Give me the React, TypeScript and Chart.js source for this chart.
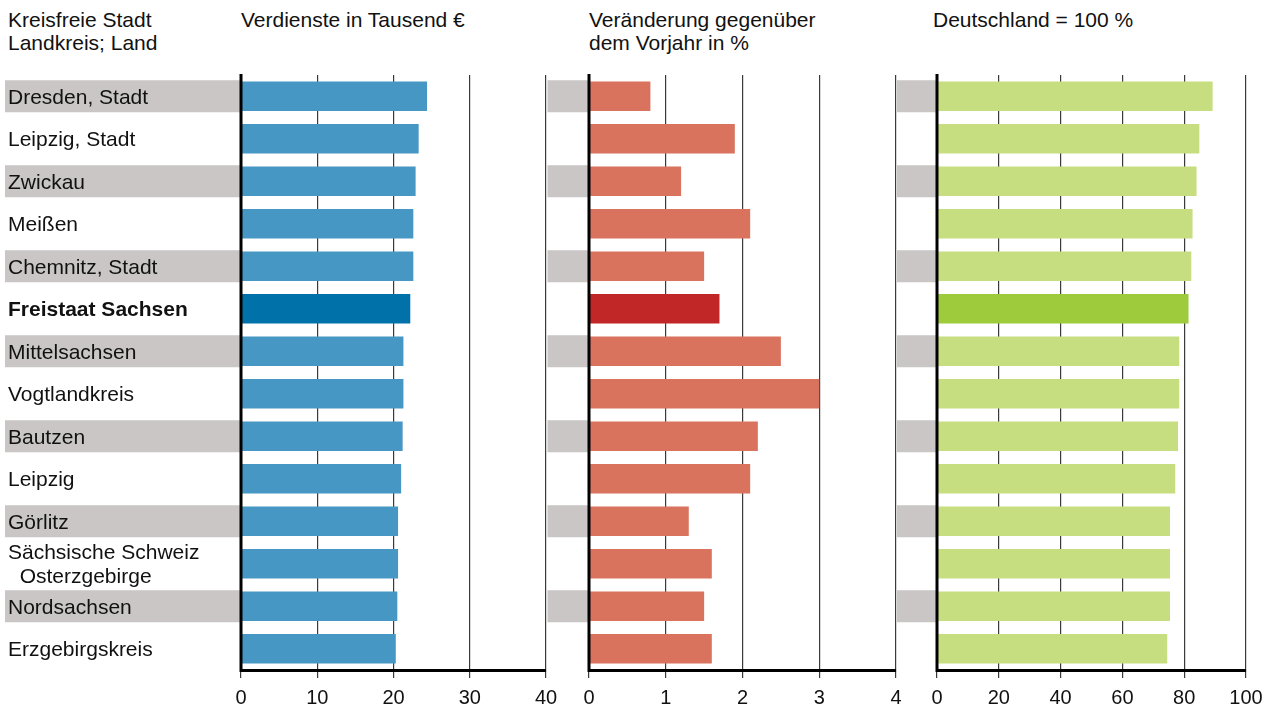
import React, { useEffect, useRef } from 'react';
import { Chart, registerables } from 'chart.js';

Chart.register(...registerables);

const FONT = "'Liberation Sans', Arial, Helvetica, sans-serif";

// ---- data ----
const categories: (string | string[])[] = [
  'Dresden, Stadt',
  'Leipzig, Stadt',
  'Zwickau',
  'Meißen',
  'Chemnitz, Stadt',
  'Freistaat Sachsen',
  'Mittelsachsen',
  'Vogtlandkreis',
  'Bautzen',
  'Leipzig',
  'Görlitz',
  ['Sächsische Schweiz', '  Osterzgebirge'],
  'Nordsachsen',
  'Erzgebirgskreis',
];
const highlightIndex = 5;

const earnings = [24.4, 23.3, 22.9, 22.6, 22.6, 22.2, 21.3, 21.3, 21.2, 21.0, 20.6, 20.6, 20.5, 20.3];
const changePct = [0.8, 1.9, 1.2, 2.1, 1.5, 1.7, 2.5, 3.0, 2.2, 2.1, 1.3, 1.6, 1.5, 1.6];
const germanyIndex = [89.2, 84.9, 84.0, 82.7, 82.3, 81.4, 78.4, 78.4, 78.0, 77.1, 75.4, 75.4, 75.4, 74.5];

const earningsRange = [0, 40, 10];
const changeRange = [0, 4, 1];
const indexRange = [0, 100, 20];

const headerLabels = ['Kreisfreie Stadt', 'Landkreis; Land'];
const headerEarnings = ['Verdienste in Tausend €'];
const headerChange = ['Veränderung gegenüber', 'dem Vorjahr in %'];
const headerIndex = ['Deutschland = 100 %'];

type PanelProps = {
  values: number[];
  range: number[];
  color: string;
  highlight: string;
  left: number;
  width: number;
  padLeft: number;
  padRight: number;
  showLabels: boolean;
  bandStart: number;
};

function Panel(p: PanelProps) {
  const ref = useRef<HTMLCanvasElement | null>(null);
  useEffect(() => {
    if (!ref.current) return;
    const bands = {
      id: 'bands',
      beforeDraw(chart: any) {
        const { ctx, chartArea, scales } = chart;
        const y = scales.y;
        ctx.save();
        ctx.fillStyle = '#c9c6c5';
        for (let i = 0; i < categories.length; i += 2) {
          const c = y.getPixelForValue(i);
          ctx.fillRect(p.bandStart, c - 16, chartArea.left - p.bandStart, 32);
        }
        ctx.restore();
      },
    };
    const zeroLine = {
      id: 'zeroLine',
      afterDatasetsDraw(chart: any) {
        const { ctx, chartArea, scales } = chart;
        const x0 = scales.x.getPixelForValue(0);
        ctx.save();
        ctx.strokeStyle = '#000';
        ctx.lineWidth = 3;
        ctx.beginPath();
        ctx.moveTo(x0, chartArea.top - 1);
        ctx.lineTo(x0, chartArea.bottom + 2);
        ctx.stroke();
        ctx.restore();
      },
    };
    const chart = new Chart(ref.current, {
      type: 'bar',
      data: {
        labels: categories as any,
        datasets: [
          {
            data: p.values,
            backgroundColor: p.values.map((_, i) => (i === highlightIndex ? p.highlight : p.color)),
            borderWidth: 0,
            barPercentage: 0.69,
            categoryPercentage: 1,
          },
        ],
      },
      options: {
        indexAxis: 'y',
        responsive: false,
        animation: false,
        layout: { padding: { left: p.padLeft, right: p.padRight, top: 75, bottom: 0 } },
        plugins: { legend: { display: false }, tooltip: { enabled: false } },
        scales: {
          x: {
            type: 'linear',
            position: 'bottom',
            min: p.range[0],
            max: p.range[1],
            ticks: {
              stepSize: p.range[2],
              color: '#111',
              font: { family: FONT, size: 20 },
              padding: 8,
              maxRotation: 0,
            },
            grid: {
              color: '#3a3a3a',
              lineWidth: 1.2,
              tickLength: 8,
              tickWidth: 1.2,
              tickColor: '#3a3a3a',
            },
            border: { display: true, color: '#000', width: 3 },
            afterFit: (s: any) => {
              s.height = 41;
              s.paddingLeft = 0;
              s.paddingRight = 0;
            },
          },
          y: {
            type: 'category',
            display: p.showLabels,
            grid: { display: false, drawTicks: false },
            border: { display: false },
            ticks: {
              crossAlign: 'far',
              autoSkip: false,
              padding: 0,
              labelOffset: 1.5,
              color: '#111',
              font: (c: any) => ({
                family: FONT,
                size: 21,
                weight: c.index === highlightIndex ? 'bold' : 'normal',
                lineHeight: 1.15,
              }),
            },
            afterFit: (s: any) => {
              s.width = p.showLabels ? 241 - p.padLeft : 0;
              s.paddingTop = 0;
              s.paddingBottom = 0;
            },
          },
        },
      } as any,
      plugins: [bands, zeroLine],
    });
    return () => chart.destroy();
  }, []);
  return (
    <canvas
      ref={ref}
      width={p.width}
      height={711}
      style={{ position: 'absolute', left: p.left, top: 0, width: p.width, height: 711 }}
    />
  );
}

function Header({ lines, left }: { lines: string[]; left: number }) {
  return (
    <div
      style={{
        position: 'absolute',
        left,
        top: 8,
        font: `21px ${FONT}`,
        lineHeight: '23px',
        color: '#111',
        whiteSpace: 'nowrap',
      }}
    >
      {lines.map((l, i) => (
        <div key={i}>{l}</div>
      ))}
    </div>
  );
}

export default function App() {
  return (
    <div
      style={{
        position: 'absolute',
        left: 0,
        top: 0,
        width: 1271,
        height: 711,
        background: '#fff',
        overflow: 'hidden',
      }}
    >
      <Header lines={headerLabels} left={8} />
      <Header lines={headerEarnings} left={241} />
      <Header lines={headerChange} left={589} />
      <Header lines={headerIndex} left={933} />
      <Panel
        values={earnings}
        range={earningsRange}
        color="#4697c4"
        highlight="#0071a9"
        left={0}
        width={560}
        padLeft={8}
        padRight={14}
        showLabels={true}
        bandStart={5}
      />
      <Panel
        values={changePct}
        range={changeRange}
        color="#d9735e"
        highlight="#c22727"
        left={546}
        width={364}
        padLeft={43}
        padRight={14}
        showLabels={false}
        bandStart={1.5}
      />
      <Panel
        values={germanyIndex}
        range={indexRange}
        color="#c6de80"
        highlight="#9ecb3c"
        left={896}
        width={375}
        padLeft={41}
        padRight={25}
        showLabels={false}
        bandStart={1}
      />
    </div>
  );
}
